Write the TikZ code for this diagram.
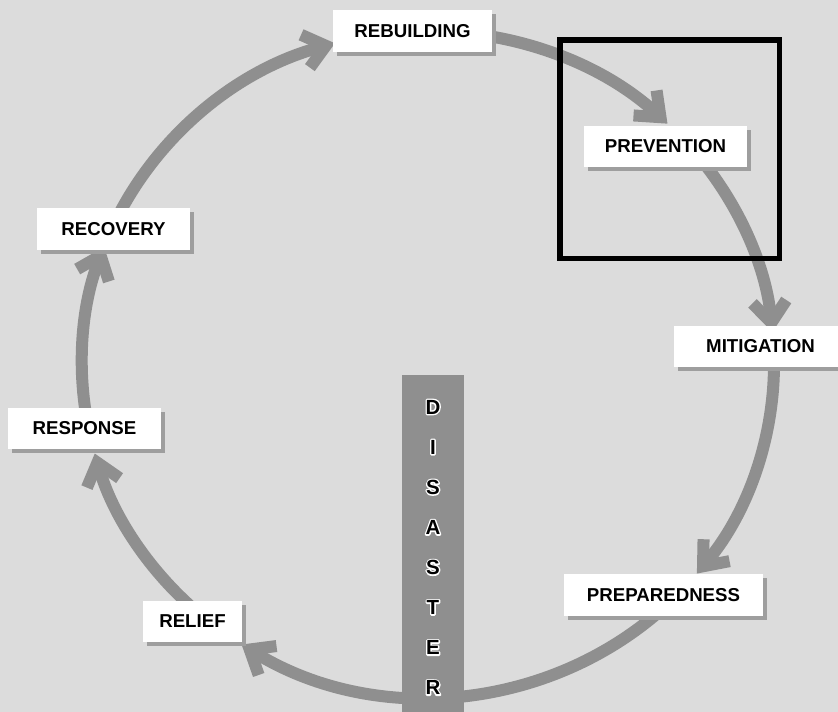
\documentclass[tikz,border=0pt]{standalone}
\usepackage{fontspec}
\setmainfont{Liberation Sans}
\usetikzlibrary{arrows.meta,shadows,calc}
\definecolor{bg}{RGB}{220,220,220}
\definecolor{arcgray}{RGB}{143,143,143}
\definecolor{shd}{RGB}{158,158,158}
\newcommand\outlined[1]{\rlap{\special{pdf:code 1 Tr 2.8 w 1 j 1 1 1 RG}#1\special{pdf:code 0 Tr 0.4 w 0 j 0 0 0 RG}}#1}
\begin{document}
\begin{tikzpicture}[x=1pt,y=1pt,
  lbl/.style={fill=white, inner sep=0pt, text=black,
    font=\fontsize{18.67}{22}\selectfont\bfseries,
    drop shadow={shadow xshift=4pt, shadow yshift=-4pt, fill=shd, opacity=1}},
  cyc/.style={draw=arcgray, line width=12pt, -{Straight Barb[length=21pt,width=34pt]}},
  dlet/.style={inner sep=0pt, text=black, font=\fontsize{20.5}{22}\selectfont\bfseries},
  ]
\useasboundingbox (0,0) rectangle (838,712);
\fill[bg] (0,0) rectangle (838,712);
\coordinate (C) at (428,348);
% arc start points (hidden under boxes)
\coordinate (s1) at ($(C)+(90:346pt and 333pt)$);
\coordinate (s2) at ($(C)+(40:346pt and 333pt)$);
\coordinate (s3) at ($(C)+(0:346pt and 333pt)$);
\coordinate (s4) at ($(C)+(-45:346pt and 333pt)$);
\coordinate (s5) at ($(C)+(-130:346pt and 333pt)$);
\coordinate (s6) at ($(C)+(-168:346pt and 333pt)$);
\coordinate (s7) at ($(C)+(-204:346pt and 333pt)$);
% cycle arrows
\draw[cyc] (s1) arc[start angle=90, end angle=46.2, x radius=346pt, y radius=333pt];
\draw[cyc] (s2) arc[start angle=40, end angle=5.5, x radius=346pt, y radius=333pt];
\draw[cyc] (s3) arc[start angle=0, end angle=-39, x radius=346pt, y radius=333pt];
\draw[cyc] (s4) arc[start angle=-45, end angle=-122.6, x radius=346pt, y radius=333pt];
\draw[cyc] (s5) arc[start angle=-130, end angle=-164.4, x radius=346pt, y radius=333pt];
\draw[cyc] (s6) arc[start angle=-168, end angle=-200.6, x radius=346pt, y radius=333pt];
\draw[cyc] (s7) arc[start angle=-204, end angle=-254.4, x radius=346pt, y radius=333pt];
% disaster bar
\node[fill=arcgray, inner sep=0pt, minimum width=62, minimum height=337, anchor=south west] (bar) at (402,0) {};
\foreach \L [count=\i] in {D,I,S,A,S,T,E,R} {
  \node[dlet] (d\i) at (433,{712-407-(\i-1)*40.1}) {\outlined{\L}};
}
% labels
\node[lbl, minimum width=159, minimum height=42] (rebuilding) at (412.5,{712-31}) {REBUILDING};
\node[lbl, minimum width=163, minimum height=41] (prevention) at (665.5,{712-146.5}) {PREVENTION};
\node[lbl, minimum width=173, minimum height=41] (mitigation) at (760.5,{712-346.5}) {MITIGATION};
\node[lbl, minimum width=199, minimum height=42] (preparedness) at (663.5,{712-595}) {PREPAREDNESS};
\node[lbl, minimum width=99, minimum height=41] (relief) at (192.5,{712-621.5}) {RELIEF};
\node[lbl, minimum width=153, minimum height=41] (response) at (84.5,{712-428.5}) {RESPONSE};
\node[lbl, minimum width=153, minimum height=42] (recovery) at (113.5,{712-229}) {RECOVERY};
% highlight frame
\node[draw=black, line width=5.5pt, inner sep=0pt, minimum width=219.5, minimum height=218.5] (frame) at (669.75,{712-149.25}) {};
\end{tikzpicture}
\end{document}
